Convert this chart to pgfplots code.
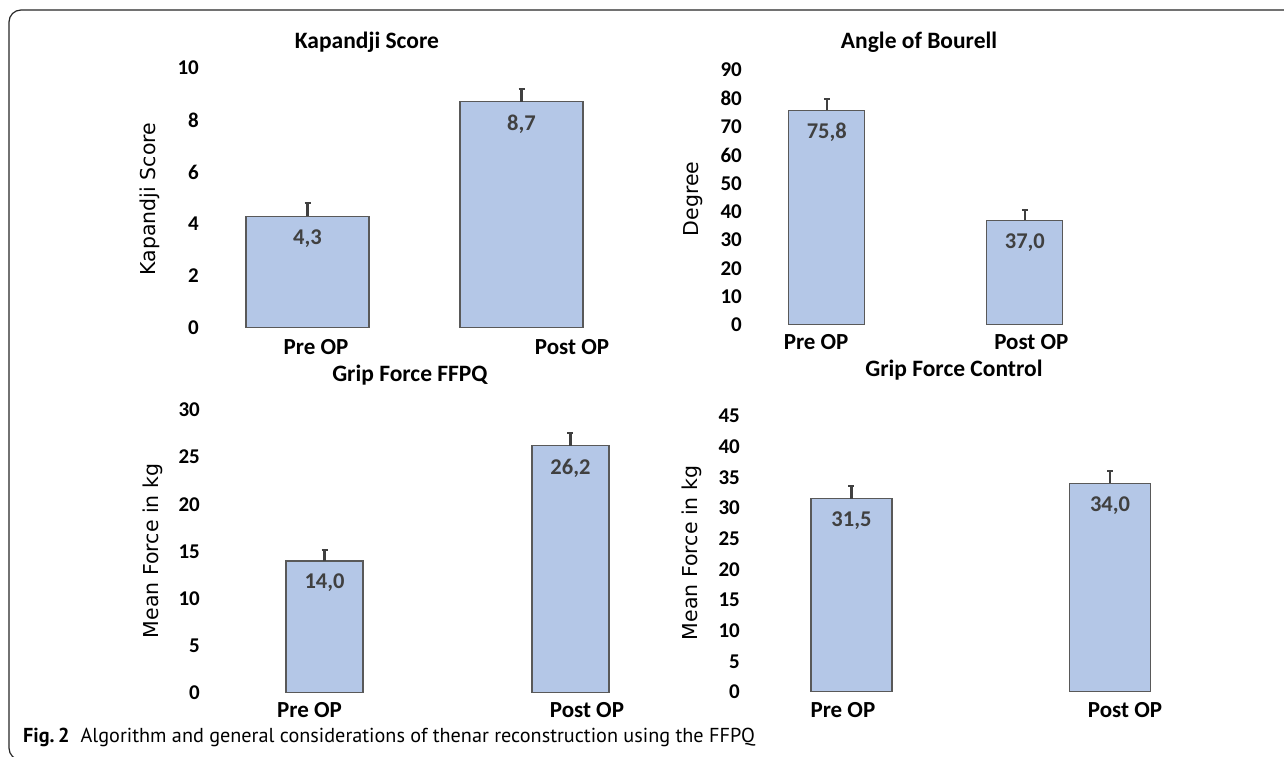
\documentclass[border=0pt]{standalone}
\usepackage{pgfplots}
\pgfplotsset{compat=1.18}
\usepackage{fontspec}
\setmainfont{Carlito}
\newfontfamily\capfont{PT Sans}
\newfontfamily\labfamily{DejaVu Sans}

\definecolor{barblue}{RGB}{180,199,231}
\definecolor{bargray}{RGB}{89,89,89}
\definecolor{errgray}{RGB}{64,64,64}
\definecolor{valgray}{RGB}{64,64,64}

\newcommand\tickfont{\fontsize{21}{25}\selectfont\bfseries}
\newcommand\titlefont{\fontsize{23.5}{28}\selectfont\bfseries}
\newcommand\catfont{\fontsize{23}{27}\selectfont\bfseries}
\newcommand\labfont{\labfamily\fontsize{20.5}{25}\selectfont}
\newcommand\valfont{\fontsize{22.5}{27}\selectfont\bfseries}

\pgfplotsset{
  /pgf/number format/assume math mode=true,
  panel/.style={
    scale only axis,
    anchor=south west,
    ybar,
    ymin=0,
    enlargelimits=false,
    axis line style={draw=none},
    tick style={draw=none},
    major tick length=0pt,
    yticklabel style={font=\tickfont, anchor=east, inner sep=0pt, xshift=-6pt},
    xticklabel style={font=\catfont, anchor=base, inner sep=0pt},
    ylabel style={font=\labfont, anchor=center},
    title style={font=\titlefont, anchor=base},
    nodes near coords={\pgfmathprintnumber[fixed,fixed zerofill,precision=1,use comma,assume math mode=true]{\pgfplotspointmeta}},
    every node near coord/.append style={font=\valfont, text=valgray, anchor=center, yshift=-22pt},
  },
  bars/.style={
    fill=barblue, draw=bargray, line width=1.2pt,
    error bars/.cd, y dir=plus, y explicit,
    error bar style={line width=2.2pt, color=errgray},
    error mark options={rotate=90, line width=2pt, color=errgray, mark size=3pt},
  },
}

\begin{document}
\begin{tikzpicture}
\useasboundingbox (0pt,0pt) rectangle (1284pt,757pt);

% Kapandji Score
\begin{axis}[panel, at={(205pt,429pt)}, width=425pt, height=260pt,
  xmin=-0.479, xmax=1.507, ymax=10, ytick={0,2,...,10},
  xtick={0.04,1.236}, xticklabels={Pre OP, Post OP},
  xticklabel style={yshift=-27pt},
  bar width=123pt,
  title={Kapandji Score}, title style={at={(axis description cs:0.381,1)}, yshift=13pt},
  ylabel={Kapandji Score}, ylabel style={at={(axis description cs:-0.129,0.496)}}]
\addplot[bars] coordinates {(0,4.3) +- (0,0.5) (1,8.7) +- (0,0.5)};
\end{axis}

% Angle of Bourell
\begin{axis}[panel, at={(748pt,432pt)}, width=442pt, height=255pt,
  xmin=-0.398, xmax=1.834, ymax=90, ytick={0,10,...,90},
  xtick={-0.054,1.033}, xticklabels={Pre OP, Post OP},
  xticklabel style={yshift=-25pt},
  bar width=76pt,
  title={Angle of Bourell}, title style={at={(axis description cs:0.387,1)}, yshift=15pt},
  ylabel={Degree}, ylabel style={at={(axis description cs:-0.124,0.494)}}]
\addplot[bars] coordinates {(0,75.8) +- (0,3.9) (1,37.0) +- (0,3.5)};
\end{axis}

% Grip Force FFPQ
\begin{axis}[panel, at={(206pt,64pt)}, width=424pt, height=283pt,
  xmin=-0.482, xmax=1.242, ymax=30, ytick={0,5,...,30},
  xtick={-0.061,1.067}, xticklabels={Pre OP, Post OP},
  xticklabel style={yshift=-24pt},
  bar width=77pt,
  title={Grip Force FFPQ}, title style={at={(axis description cs:0.481,1)}, yshift=22pt},
  ylabel={Mean Force in kg}, ylabel style={at={(axis description cs:-0.125,0.502)}}]
\addplot[bars] coordinates {(0,14.0) +- (0,1.2) (1,26.2) +- (0,1.4)};
\end{axis}

% Grip Force Control
\begin{axis}[panel, at={(746pt,65pt)}, width=454pt, height=276pt,
  xmin=-0.408, xmax=1.348, ymax=45, ytick={0,5,...,45},
  xtick={-0.033,1.058}, xticklabels={Pre OP, Post OP},
  xticklabel style={yshift=-26pt},
  bar width=81pt,
  title={Grip Force Control}, title style={at={(axis description cs:0.458,1)}, yshift=33pt},
  ylabel={Mean Force in kg}, ylabel style={at={(axis description cs:-0.119,0.504)}}]
\addplot[bars] coordinates {(0,31.5) +- (0,2.1) (1,34.0) +- (0,2.1)};
\end{axis}

% frame and caption
\draw[line width=1.2pt, color=black!85, rounded corners=12pt]
  (1290pt,747pt) -- (9pt,747pt) -- (9pt,-3pt) -- (40pt,-3pt);
\node[anchor=base west, inner sep=0pt] at (23pt,14pt)
  {\capfont\fontsize{20.2}{24}\selectfont\textbf{Fig.\,2}\hspace{0.55em}Algorithm and general considerations of thenar reconstruction using the FFPQ};
\end{tikzpicture}
\end{document}
